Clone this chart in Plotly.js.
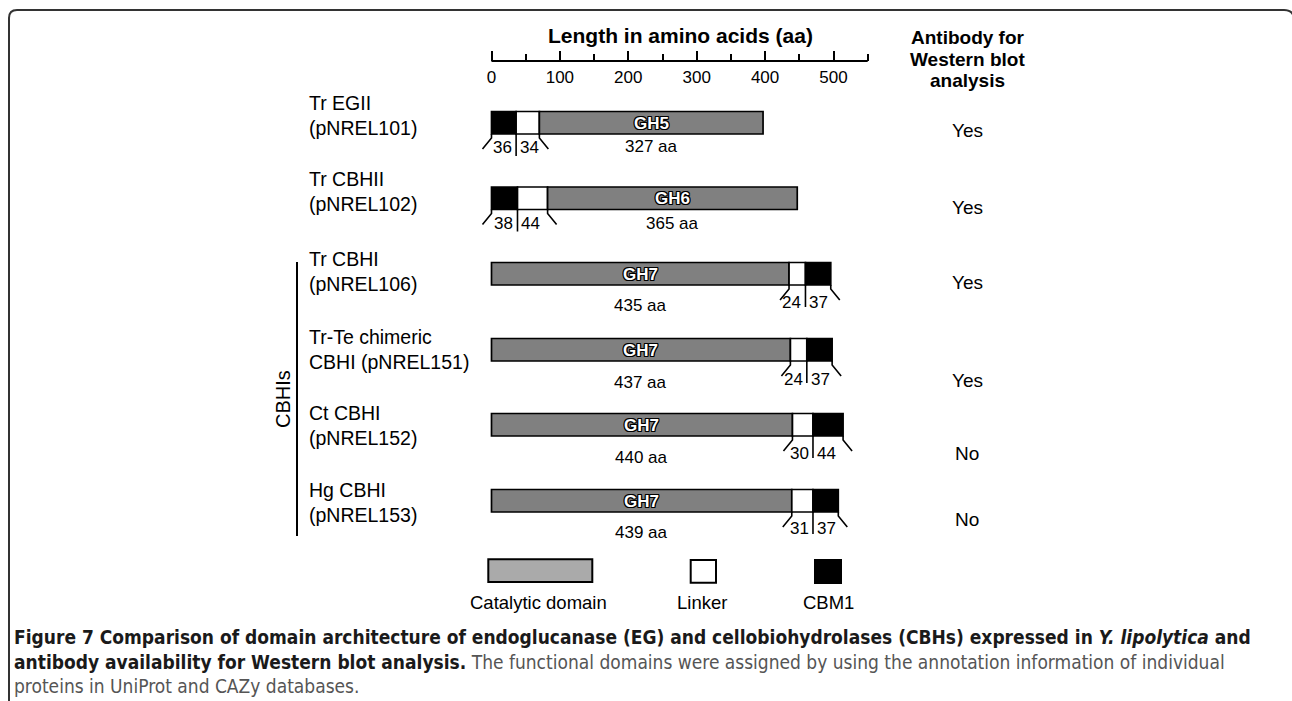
<!DOCTYPE html>
<html>
<head>
<meta charset="utf-8">
<script src="https://cdn.plot.ly/plotly-3.0.1.min.js"></script>
<style>html,body{margin:0;padding:0;background:#fff;}#chart{width:1292px;height:701px;}</style>
</head>
<body>
<div id="chart"></div>
<script>
// ---------- data ----------
const proteinNames = ['Tr EGII', 'Tr CBHII', 'Tr CBHI', 'Tr-Te chimeric', 'Ct CBHI', 'Hg CBHI'];
const plasmidNames = ['(pNREL101)', '(pNREL102)', '(pNREL106)', 'CBHI (pNREL151)', '(pNREL152)', '(pNREL153)'];
const families = ['GH5', 'GH6', 'GH7', 'GH7', 'GH7', 'GH7'];
const cbmLength = [36, 38, 37, 37, 44, 37];
const linkerLength = [34, 44, 24, 24, 30, 31];
const catalyticLength = [327, 365, 435, 437, 440, 439];
const cbmAtNTerminus = [true, true, false, false, false, false];
const antibody = ['Yes', 'Yes', 'Yes', 'Yes', 'No', 'No'];
const tickVals = [0, 100, 200, 300, 400, 500];
const tickLabels = ['0', '100', '200', '300', '400', '500'];
const minorTickVals = [50, 150, 250, 350, 450, 550];
const axisMax = 550;
const legendLabels = ['Catalytic domain', 'Linker', 'CBM1'];
const headingLines = ['Antibody for', 'Western blot', 'analysis'];

// ---------- layout constants ----------
const W = 1292, H = 701;
const axisLeftPx = 491.5, axisRightPx = 867.7;
const k = (axisRightPx - axisLeftPx) / axisMax;   // px per aa
const aaPerPx = 1 / k;
const xRange = [-axisLeftPx / k, (W - axisLeftPx) / k];
const rowTop = [111.5, 187, 262.5, 338.5, 413.5, 489.5];
const barH = 22.5;
const nameY = [103, 179, 259, 337, 413, 490];
const numOffset = [13, 14, 17, 18, 17, 16];
const aaOffset = [12, 14, 20, 21, 21, 20];
const answerY = [130, 207, 282, 380, 453, 519];
const rulerY = 61;
const FONT = 'Liberation Sans, Arial, Helvetica, sans-serif';
const CAP = 'DejaVu Sans Condensed, Liberation Sans Narrow, Arial Narrow, sans-serif';
const colors = {cat: '#808080', linker: '#ffffff', cbm: '#000000'};
const P = v => v / W;

const shapes = [];
const annotations = [];

// ruler line
shapes.push({type: 'line', xref: 'x', yref: 'y', x0: 0, x1: axisMax, y0: rulerY, y1: rulerY,
  line: {color: '#000', width: 2.2}});

annotations.push({xref: 'paper', yref: 'y', x: P(680), y: 35, text: '<b>Length in amino acids (aa)</b>',
  showarrow: false, font: {family: FONT, size: 21, color: '#000'}, xanchor: 'center', yanchor: 'middle'});

headingLines.forEach((t, j) => {
  annotations.push({xref: 'paper', yref: 'y', x: P(967.5), y: 37.5 + j * 21.5, text: '<b>' + t + '</b>',
    showarrow: false, font: {family: FONT, size: 19, color: '#000'}, xanchor: 'center', yanchor: 'middle'});
});

function line(x0, y0, x1, y1) {
  shapes.push({type: 'line', xref: 'x', yref: 'y', x0: x0, y0: y0, x1: x1, y1: y1, line: {color: '#000', width: 1.6}});
}
function slant(b, bottom, dir) {
  shapes.push({type: 'path', xref: 'x', yref: 'y',
    path: `M ${b},${bottom} L ${b},${bottom + 4} L ${b + dir * 9 * aaPerPx},${bottom + 15}`,
    line: {color: '#000', width: 1.6}});
}

proteinNames.forEach((name, i) => {
  const top = rowTop[i], bottom = top + barH, mid = top + barH / 2;
  let segs;
  if (cbmAtNTerminus[i]) {
    segs = [['cbm', cbmLength[i]], ['linker', linkerLength[i]], ['cat', catalyticLength[i]]];
  } else {
    segs = [['cat', catalyticLength[i]], ['linker', linkerLength[i]], ['cbm', cbmLength[i]]];
  }
  let pos = 0;
  const starts = [];
  segs.forEach(([type, len]) => {
    starts.push(pos);
    shapes.push({type: 'rect', xref: 'x', yref: 'y', x0: pos, x1: pos + len, y0: top, y1: bottom,
      fillcolor: colors[type], line: {color: '#000', width: 1.7}, layer: 'above'});
    pos += len;
  });
  const total = pos;
  const catIdx = segs.findIndex(s => s[0] === 'cat');
  const catMid = starts[catIdx] + segs[catIdx][1] / 2;

  annotations.push({xref: 'x', yref: 'y', x: catMid, y: mid + 0.5, text: '<b>' + families[i] + '</b>', showarrow: false,
    font: {family: FONT, size: 17, color: '#ffffff',
      shadow: '1px 1px 0 #000, -1px -1px 0 #000, 1px -1px 0 #000, -1px 1px 0 #000, 0 1px 0 #000, 0 -1px 0 #000, 1px 0 0 #000, -1px 0 0 #000'},
    xanchor: 'center', yanchor: 'middle'});
  annotations.push({xref: 'x', yref: 'y', x: catMid, y: bottom + aaOffset[i], text: catalyticLength[i] + ' aa', showarrow: false,
    font: {family: FONT, size: 17, color: '#000'}, xanchor: 'center', yanchor: 'middle'});

  // small-domain boundaries
  let b0, b1, b2, leftLabel, rightLabel;
  if (cbmAtNTerminus[i]) {
    b0 = 0; b1 = cbmLength[i]; b2 = cbmLength[i] + linkerLength[i];
    leftLabel = cbmLength[i]; rightLabel = linkerLength[i];
  } else {
    b0 = catalyticLength[i]; b1 = catalyticLength[i] + linkerLength[i]; b2 = total;
    leftLabel = linkerLength[i]; rightLabel = cbmLength[i];
  }
  slant(b0, bottom, -1);
  line(b1, bottom, b1, bottom + 22);
  slant(b2, bottom, 1);
  annotations.push({xref: 'x', yref: 'y', x: b1 - 2 * aaPerPx, y: bottom + numOffset[i], text: String(leftLabel), showarrow: false,
    font: {family: FONT, size: 17, color: '#000'}, xanchor: 'right', yanchor: 'middle'});
  annotations.push({xref: 'x', yref: 'y', x: b1 + 2 * aaPerPx, y: bottom + numOffset[i], text: String(rightLabel), showarrow: false,
    font: {family: FONT, size: 17, color: '#000'}, xanchor: 'left', yanchor: 'middle'});

  // names
  annotations.push({xref: 'paper', yref: 'y', x: P(307), y: nameY[i], text: name, showarrow: false,
    font: {family: FONT, size: 19.5, color: '#000'}, xanchor: 'left', yanchor: 'middle'});
  annotations.push({xref: 'paper', yref: 'y', x: P(307), y: nameY[i] + 25, text: plasmidNames[i], showarrow: false,
    font: {family: FONT, size: 19.5, color: '#000'}, xanchor: 'left', yanchor: 'middle'});

  annotations.push({xref: 'paper', yref: 'y', x: P(967), y: answerY[i], text: antibody[i], showarrow: false,
    font: {family: FONT, size: 19, color: '#000'}, xanchor: 'center', yanchor: 'middle'});
});

// CBHIs bracket
shapes.push({type: 'line', xref: 'paper', yref: 'y', x0: P(297), x1: P(297), y0: 262, y1: 536, line: {color: '#000', width: 2}});
annotations.push({xref: 'paper', yref: 'y', x: P(283), y: 399, text: 'CBHIs', textangle: -90, showarrow: false,
  font: {family: FONT, size: 20, color: '#000'}, xanchor: 'center', yanchor: 'middle'});

// legend
const legendBoxes = [
  {x0: 488.3, x1: 592.3, y0: 559.3, y1: 582, fill: '#aaaaaa', cx: 538},
  {x0: 690.7, x1: 716, y0: 560, y1: 582.7, fill: '#ffffff', cx: 702},
  {x0: 815, x1: 841, y0: 560, y1: 583, fill: '#000000', cx: 828}
];
legendBoxes.forEach((b, j) => {
  shapes.push({type: 'rect', xref: 'paper', yref: 'y', x0: P(b.x0), x1: P(b.x1), y0: b.y0, y1: b.y1,
    fillcolor: b.fill, line: {color: '#000', width: 2}});
  annotations.push({xref: 'paper', yref: 'y', x: P(b.cx), y: 602, text: legendLabels[j], showarrow: false,
    font: {family: FONT, size: 18.5, color: '#000'}, xanchor: 'center', yanchor: 'middle'});
});

// border
shapes.push({type: 'path', xref: 'paper', yref: 'y',
  path: `M ${P(9)},720 L ${P(9)},18 Q ${P(9)},10 ${P(17)},10 L ${P(1284)},10 Q ${P(1294)},10 ${P(1294)},20 L ${P(1294)},720`,
  line: {color: '#333', width: 2}});

// caption
const capLines = [
  '<b>Figure 7 Comparison of domain architecture of endoglucanase (EG) and cellobiohydrolases (CBHs) expressed in <i>Y. lipolytica</i> and</b>',
  '<b>antibody availability for Western blot analysis.</b> <span style="color:#555">The functional domains were assigned by using the annotation information of individual</span>',
  '<span style="color:#555">proteins in UniProt and CAZy databases.</span>'
];
capLines.forEach((t, j) => {
  annotations.push({xref: 'paper', yref: 'y', x: P(12), y: 637 + j * 24.5, text: t, showarrow: false,
    font: {family: CAP, size: 19, color: '#1a1a1a'}, xanchor: 'left', yanchor: 'middle', align: 'left'});
});

const data = [{x: [0], y: [-100], mode: 'markers', marker: {opacity: 0}, hoverinfo: 'skip', showlegend: false}];

const layout = {
  width: W, height: H,
  margin: {l: 0, r: 0, t: 0, b: 0, pad: 0},
  paper_bgcolor: '#fff', plot_bgcolor: '#fff',
  showlegend: false,
  xaxis: {range: xRange, anchor: 'free', position: 1 - rulerY / H, side: 'bottom',
    showgrid: false, zeroline: false, showline: false,
    tickmode: 'array', tickvals: tickVals, ticktext: tickLabels,
    ticks: 'inside', ticklen: 10, tickwidth: 2, tickcolor: '#000', ticklabelstandoff: 4,
    minor: {tickmode: 'array', tickvals: minorTickVals, ticks: 'inside', ticklen: 7, tickwidth: 2, tickcolor: '#000', showgrid: false},
    tickfont: {family: FONT, size: 17, color: '#000'}, fixedrange: true},
  yaxis: {range: [H, 0], domain: [0, 1], visible: false, showgrid: false, zeroline: false, fixedrange: true},
  shapes: shapes,
  annotations: annotations
};

Plotly.newPlot('chart', data, layout, {displayModeBar: false, staticPlot: true});
</script>
</body>
</html>
